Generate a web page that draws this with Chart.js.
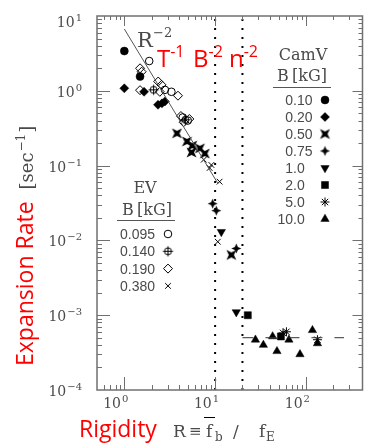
<!DOCTYPE html>
<html>
<head>
<meta charset="utf-8">
<script src="https://cdn.jsdelivr.net/npm/chart.js@4.4.1/dist/chart.umd.min.js"></script>
<style>
html, body { margin: 0; padding: 0; background: #fff; }
</style>
</head>
<body>
<canvas id="myChart" width="368" height="447"></canvas>
<script>
// axis ranges and tick labels (powers of ten)
const xRange = [0.5, 420];
const yRange = [1e-4, 10];
const xTickPowers = [0, 1, 2];
const yTickPowers = [1, 0, -1, -2, -3, -4];

// CamV runs: [rigidity, expansion rate]
const camv010 = [[1.0, 3.4], [1.49, 1.55]];
const camv020 = [[1.0, 1.08], [1.65, 0.97], [2.35, 0.65], [2.6, 0.68], [2.8, 0.72]];
const camv050 = [[3.8, 0.27], [4.9, 0.21], [5.6, 0.185], [5.5, 0.15], [6.8, 0.17], [7.7, 0.145], [15.1, 0.0064]];
const camv075 = [[9.4, 0.031], [10.3, 0.025], [17.1, 0.0078]];
const camv10 = [[11.7, 0.013], [17.1, 0.0011]];
const camv20 = [[22.9, 0.001], [53, 0.00052]];
const camv50 = [[56, 0.00058], [61, 0.0006], [134, 0.00047]];
const camv100 = [[27.8, 0.00047], [34, 0.0004], [43, 0.00052], [48, 0.00033], [65, 0.00047], [86, 0.0003], [118, 0.00063], [134, 0.00042]];
const camvLabels = ['0.10', '0.20', '0.50', '0.75', '1.0', '2.0', '5.0', '10.0'];

// EV runs
const ev095 = [[1.88, 2.5], [2.8, 1.03], [3.3, 0.97], [4.4, 0.44], [5.0, 0.4]];
const ev140 = [[2.1, 1.03], [4.7, 0.41]];
const ev190 = [[1.49, 2.0], [1.55, 1.8], [1.49, 1.02], [2.36, 1.33], [2.57, 1.2], [2.46, 0.97], [3.9, 0.86], [4.2, 0.46], [4.5, 0.38], [5.2, 0.42]];
const ev380 = [[7.5, 0.12], [8.7, 0.093], [9.1, 0.102], [11.2, 0.061], [10.7, 0.0096]];
const evLabels = ['0.095', '0.140', '0.190', '0.380'];

// guide lines
const powerLaw = [[1.0, 6.7], [10.7, 0.058]];
const cutoffs = [10, 20];
const plateau = [[20, 5e-4], [263, 5e-4]];

const TXT = '#4a4a4a';
const AXIS = '#707070';
const SERIF = '"DejaVu Serif", serif';
const SANS = '"Liberation Sans", Arial, sans-serif';
const REDF = '"Open Sans", sans-serif';
const RED = '#ff0000';

function marker(draw) {
    const c = document.createElement('canvas');
    c.width = c.height = 13;
    const g = c.getContext('2d');
    g.translate(6.5, 6.5);
    g.fillStyle = '#000';
    g.strokeStyle = '#000';
    g.lineWidth = 1;
    draw(g);
    return c;
}

const bowtie = marker(g => {
    g.beginPath();
    g.moveTo(-5, -5); g.lineTo(0, -2.5); g.lineTo(5, -5); g.lineTo(2.5, 0);
    g.lineTo(5, 5); g.lineTo(0, 2.5); g.lineTo(-5, 5); g.lineTo(-2.5, 0);
    g.closePath();
    g.fill();
});
const plusStar = marker(g => {
    g.beginPath();
    g.moveTo(0, -5); g.lineTo(1.5, -1.5); g.lineTo(5, 0); g.lineTo(1.5, 1.5);
    g.lineTo(0, 5); g.lineTo(-1.5, 1.5); g.lineTo(-5, 0); g.lineTo(-1.5, -1.5);
    g.closePath();
    g.fill();
});
const circlePlus = marker(g => {
    g.beginPath();
    g.arc(0, 0, 3.5, 0, Math.PI * 2);
    g.moveTo(-5, 0); g.lineTo(5, 0);
    g.moveTo(0, -5); g.lineTo(0, 5);
    g.stroke();
});

const camvStyles = [
    { pointStyle: 'circle', radius: 4 },
    { pointStyle: 'rectRot', radius: 4.5 },
    { pointStyle: bowtie, radius: 5 },
    { pointStyle: plusStar, radius: 5 },
    { pointStyle: 'triangle', radius: 4.8, rotation: 180 },
    { pointStyle: 'rect', radius: 5 },
    { pointStyle: 'star', radius: 4.5, open: true },
    { pointStyle: 'triangle', radius: 4.8 }
];
const evStyles = [
    { pointStyle: 'circle', radius: 3.8, open: true },
    { pointStyle: circlePlus, radius: 5 },
    { pointStyle: 'rectRot', radius: 4.5, open: true },
    { pointStyle: 'crossRot', radius: 4, open: true }
];

const pts = a => a.map(([x, y]) => ({ x, y }));

function markerSet(data, s) {
    return {
        data: pts(data),
        showLine: false,
        pointStyle: s.pointStyle,
        pointRadius: s.radius,
        pointRotation: s.rotation || 0,
        pointBackgroundColor: s.open ? 'rgba(0,0,0,0)' : '#000',
        pointBorderColor: '#000',
        pointBorderWidth: s.open ? 1 : 0.5
    };
}

function lineSet(data, opts) {
    return Object.assign({
        data: pts(data),
        showLine: true,
        pointRadius: 0,
        borderColor: '#555',
        borderWidth: 1,
        fill: false
    }, opts);
}

const datasets = [
    lineSet(powerLaw, {}),
    lineSet([[cutoffs[0], yRange[0]], [cutoffs[0], yRange[1]]], { borderColor: '#000', borderWidth: 2, borderDash: [2, 7] }),
    lineSet([[cutoffs[1], yRange[0]], [cutoffs[1], yRange[1]]], { borderColor: '#000', borderWidth: 2, borderDash: [2, 7] }),
    lineSet(plateau, { borderColor: '#333', borderDash: [11, 12] })
];
[camv010, camv020, camv050, camv075, camv10, camv20, camv50, camv100].forEach((d, i) => datasets.push(markerSet(d, camvStyles[i])));
[ev095, ev140, ev190, ev380].forEach((d, i) => datasets.push(markerSet(d, evStyles[i])));

function isPow10(v) {
    const e = Math.round(Math.log10(v));
    return Math.abs(v / Math.pow(10, e) - 1) < 1e-6;
}

function tickValues(min, max) {
    const out = [];
    for (let e = Math.floor(Math.log10(min)); e <= Math.ceil(Math.log10(max)); e++) {
        for (let m = 1; m <= 9; m++) {
            const v = m * Math.pow(10, e);
            if (v >= min && v <= max) out.push(v);
        }
    }
    return out;
}

function expStr(e) {
    return (e < 0 ? '\u2212' : '') + Math.abs(e);
}

function legendPoint(ctx, s, x, y) {
    ctx.fillStyle = s.open ? 'rgba(0,0,0,0)' : '#000';
    ctx.strokeStyle = '#000';
    ctx.lineWidth = s.open ? 1 : 0.5;
    Chart.helpers.drawPoint(ctx, {
        pointStyle: s.pointStyle,
        radius: s.radius,
        rotation: s.rotation || 0,
        borderWidth: ctx.lineWidth
    }, x, y);
}

const decorations = {
    id: 'decorations',
    afterDraw(chart) {
        const { ctx, chartArea: a, scales: { x, y } } = chart;
        ctx.save();

        // frame and inward ticks on all sides
        ctx.strokeStyle = AXIS;
        ctx.lineWidth = 1;
        ctx.beginPath();
        tickValues(xRange[0], xRange[1]).forEach(v => {
            const px = Math.round(x.getPixelForValue(v)) + 0.5;
            if (px < a.left + 2 || px > a.right - 2) return;
            const len = isPow10(v) ? 13 : 5;
            ctx.moveTo(px, a.bottom); ctx.lineTo(px, a.bottom - len);
            ctx.moveTo(px, a.top); ctx.lineTo(px, a.top + (isPow10(v) ? 10 : 4));
        });
        tickValues(yRange[0], yRange[1]).forEach(v => {
            const py = Math.round(y.getPixelForValue(v)) + 0.5;
            if (py < a.top + 2 || py > a.bottom - 2) return;
            const len = isPow10(v) ? 13 : 5;
            ctx.moveTo(a.left, py); ctx.lineTo(a.left + len, py);
            ctx.moveTo(a.right, py); ctx.lineTo(a.right - (isPow10(v) ? 10 : 4), py);
        });
        ctx.stroke();
        ctx.lineWidth = 1.5;
        ctx.strokeRect(a.left, a.top, a.right - a.left, a.bottom - a.top);

        // tick labels
        ctx.fillStyle = TXT;
        ctx.textBaseline = 'alphabetic';
        ctx.textAlign = 'left';
        yTickPowers.forEach(e => {
            const py = y.getPixelForValue(Math.pow(10, e));
            const s = expStr(e);
            ctx.font = `10px ${SERIF}`;
            const we = ctx.measureText(s).width;
            ctx.font = `14px ${SERIF}`;
            const wb = ctx.measureText('10').width;
            const base = Math.max(py + 6, a.top + 11);
            ctx.fillText('10', 82 - we - wb - 1, base);
            ctx.font = `10px ${SERIF}`;
            ctx.fillText(s, 82 - we, base - 6);
        });
        xTickPowers.forEach(e => {
            const px = x.getPixelForValue(Math.pow(10, e));
            const s = expStr(e);
            ctx.font = `10px ${SERIF}`;
            const we = ctx.measureText(s).width;
            ctx.font = `14px ${SERIF}`;
            const wb = ctx.measureText('10').width;
            const right = px + 4;
            ctx.fillText('10', right - we - wb - 1, 408);
            ctx.font = `10px ${SERIF}`;
            ctx.fillText(s, right - we, 402);
        });

        // R^-2 label
        ctx.font = `21px ${SERIF}`;
        ctx.fillText('R', 137, 47);
        ctx.font = `13px ${SERIF}`;
        ctx.fillText('\u22122', 153, 37);

        // red scaling labels
        ctx.fillStyle = RED;
        [['T', '-1', 157], ['B', '-2', 193], ['n', '-2', 229]].forEach(([b, p, px]) => {
            ctx.font = `24px ${REDF}`;
            ctx.fillText(b, px, 67);
            const w = ctx.measureText(b).width;
            ctx.font = `16px ${REDF}`;
            ctx.fillText(p, px + w, 57);
        });

        // CamV legend
        ctx.fillStyle = TXT;
        ctx.textAlign = 'center';
        ctx.font = `16px ${SERIF}`;
        ctx.fillText('CamV', 303, 60);
        ctx.fillText('B\u2009[kG]', 302, 81);
        ctx.strokeStyle = '#555';
        ctx.lineWidth = 1;
        ctx.beginPath();
        ctx.moveTo(273, 87.5); ctx.lineTo(331, 87.5);
        ctx.moveTo(117, 220.5); ctx.lineTo(175, 220.5);
        ctx.stroke();
        ctx.font = `14px ${SANS}`;
        camvLabels.forEach((lab, i) => {
            const cy = 100 + 17 * i;
            const [ip, fp] = lab.split('.');
            ctx.fillStyle = TXT;
            ctx.textAlign = 'right';
            ctx.fillText(ip + '.', 297, cy + 5);
            ctx.textAlign = 'left';
            ctx.fillText(fp, 297, cy + 5);
            legendPoint(ctx, camvStyles[i], 325, cy);
        });

        // EV legend
        ctx.fillStyle = TXT;
        ctx.textAlign = 'center';
        ctx.font = `16px ${SERIF}`;
        ctx.fillText('EV', 145, 193);
        ctx.fillText('B\u2009[kG]', 147, 215);
        ctx.font = `14px ${SANS}`;
        evLabels.forEach((lab, i) => {
            const cy = 234 + 17.3 * i;
            ctx.fillStyle = TXT;
            ctx.textAlign = 'left';
            ctx.fillText(lab, 120, cy + 5);
            legendPoint(ctx, evStyles[i], 168, cy);
        });

        // y axis title
        ctx.save();
        ctx.translate(33, 366);
        ctx.rotate(-Math.PI / 2);
        ctx.textAlign = 'left';
        ctx.fillStyle = RED;
        ctx.font = `23px ${REDF}`;
        ctx.fillText('Expansion Rate', 0, 0);
        let cx = ctx.measureText('Expansion Rate').width + 12;
        ctx.fillStyle = TXT;
        ctx.font = `18px ${SERIF}`;
        ctx.fillText('[sec', cx, 0);
        cx += ctx.measureText('[sec').width + 1;
        ctx.font = `12px ${SERIF}`;
        ctx.fillText('\u22121', cx, -8);
        cx += ctx.measureText('\u22121').width + 1;
        ctx.font = `18px ${SERIF}`;
        ctx.fillText(']', cx, 0);
        ctx.restore();

        // x axis title
        ctx.textAlign = 'left';
        ctx.fillStyle = RED;
        ctx.font = `23px ${REDF}`;
        ctx.fillText('Rigidity', 79, 437);
        ctx.fillStyle = TXT;
        ctx.font = `17px ${SERIF}`;
        ctx.fillText('R', 173, 437);
        ctx.font = `15px ${SERIF}`;
        ctx.fillText('\u2261', 189, 436);
        ctx.font = `17px ${SERIF}`;
        ctx.fillText('f', 206, 437);
        ctx.fillText('/', 233, 437);
        ctx.fillText('f', 259, 437);
        ctx.font = `12px ${SERIF}`;
        ctx.fillText('b', 215, 441);
        ctx.fillText('E', 266, 441);
        ctx.beginPath();
        ctx.moveTo(204, 417.5); ctx.lineTo(215, 417.5);
        ctx.stroke();

        ctx.restore();
    }
};

const ctx = document.getElementById('myChart').getContext('2d');
new Chart(ctx, {
    type: 'scatter',
    data: { datasets: datasets },
    options: {
        responsive: false,
        animation: false,
        devicePixelRatio: 1,
        layout: { padding: { left: 97, top: 16, right: 4, bottom: 57 } },
        plugins: { legend: { display: false }, tooltip: { enabled: false } },
        scales: {
            x: { type: 'logarithmic', min: xRange[0], max: xRange[1], display: false },
            y: { type: 'logarithmic', min: yRange[0], max: yRange[1], display: false }
        }
    },
    plugins: [decorations]
});
</script>
</body>
</html>
